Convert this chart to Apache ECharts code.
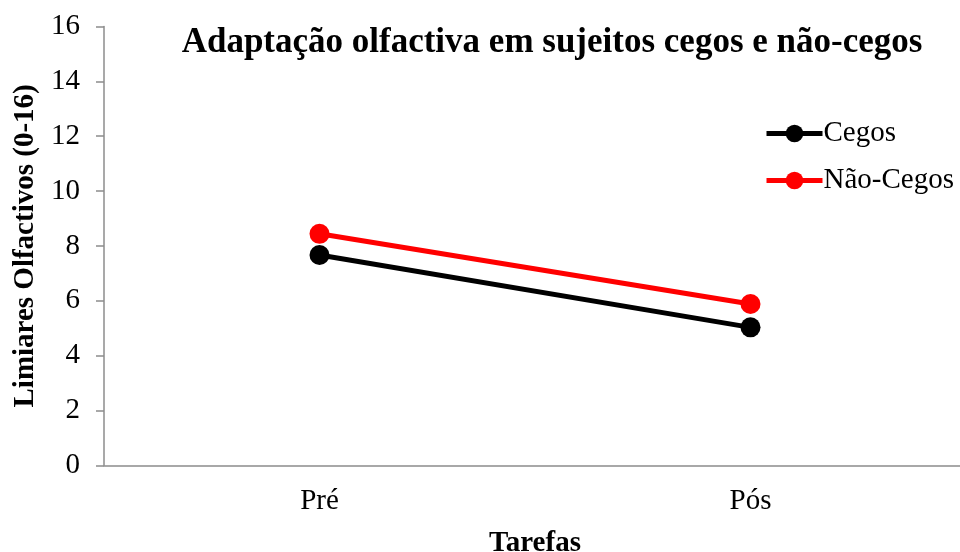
<!DOCTYPE html>
<html>
<head>
<meta charset="utf-8">
<script src="https://cdn.jsdelivr.net/npm/echarts@6/dist/echarts.min.js"></script>
<style>html,body{margin:0;padding:0;background:#fff}#c{width:960px;height:552px}</style>
</head>
<body>
<div id="c"></div>
<script>
const categories = ['Pré', 'Pós'];
const cegos = [7.67, 5.03];
const naoCegos = [8.44, 5.88];
const yTicks = [0, 2, 4, 6, 8, 10, 12, 14, 16];

const FONT = '"Liberation Serif", "Times New Roman", serif';
const chart = echarts.init(document.getElementById('c'));
chart.setOption({
  animation: false,
  backgroundColor: '#fff',
  title: {
    text: 'Adaptação olfactiva em sujeitos cegos e não-cegos',
    left: 547, textAlign: 'center', top: 20,
    textStyle: { fontFamily: FONT, fontSize: 35, fontWeight: 'bold', color: '#000' }
  },
  legend: {
    orient: 'vertical', left: 759, top: 114, itemGap: 18,
    itemWidth: 56, itemHeight: 22,
    lineStyle: { width: 5 },
    textStyle: { fontFamily: FONT, fontSize: 29, color: '#000', padding: [0, 0, 0, -4] },
    data: ['Cegos', 'Não-Cegos']
  },
  grid: { left: 104, top: 26.5, width: 862, bottom: 86.7, containLabel: false, outerBoundsMode: 'none' },
  xAxis: {
    type: 'category', data: categories, boundaryGap: true,
    name: 'Tarefas', nameLocation: 'middle', nameGap: 64,
    nameTextStyle: { fontFamily: FONT, fontSize: 29, fontWeight: 'bold', color: '#000' },
    axisLine: { lineStyle: { color: '#8c8c8c', width: 1.5 } },
    axisTick: { alignWithLabel: true, length: 6, lineStyle: { color: '#8c8c8c', width: 1.5 } },
    axisLabel: { fontFamily: FONT, fontSize: 29, color: '#000', margin: 22 }
  },
  yAxis: {
    type: 'value', min: yTicks[0], max: yTicks[yTicks.length - 1], interval: 2,
    name: 'Limiares Olfactivos (0-16)', nameLocation: 'middle', nameGap: 59, nameRotate: 90,
    nameTextStyle: { fontFamily: FONT, fontSize: 29, fontWeight: 'bold', color: '#000' },
    axisLine: { show: true, lineStyle: { color: '#8c8c8c', width: 1.5 } },
    axisTick: { show: true, length: 8, lineStyle: { color: '#8c8c8c', width: 1.5 } },
    splitLine: { show: false },
    axisLabel: { fontFamily: FONT, fontSize: 29, color: '#000', margin: 24 }
  },
  series: [
    {
      name: 'Cegos', type: 'line', data: cegos,
      symbol: 'circle', symbolSize: 20,
      lineStyle: { color: '#000', width: 5 },
      itemStyle: { color: '#000' }
    },
    {
      name: 'Não-Cegos', type: 'line', data: naoCegos,
      symbol: 'circle', symbolSize: 20,
      lineStyle: { color: '#ff0000', width: 5 },
      itemStyle: { color: '#ff0000' }
    }
  ]
});
</script>
</body>
</html>
